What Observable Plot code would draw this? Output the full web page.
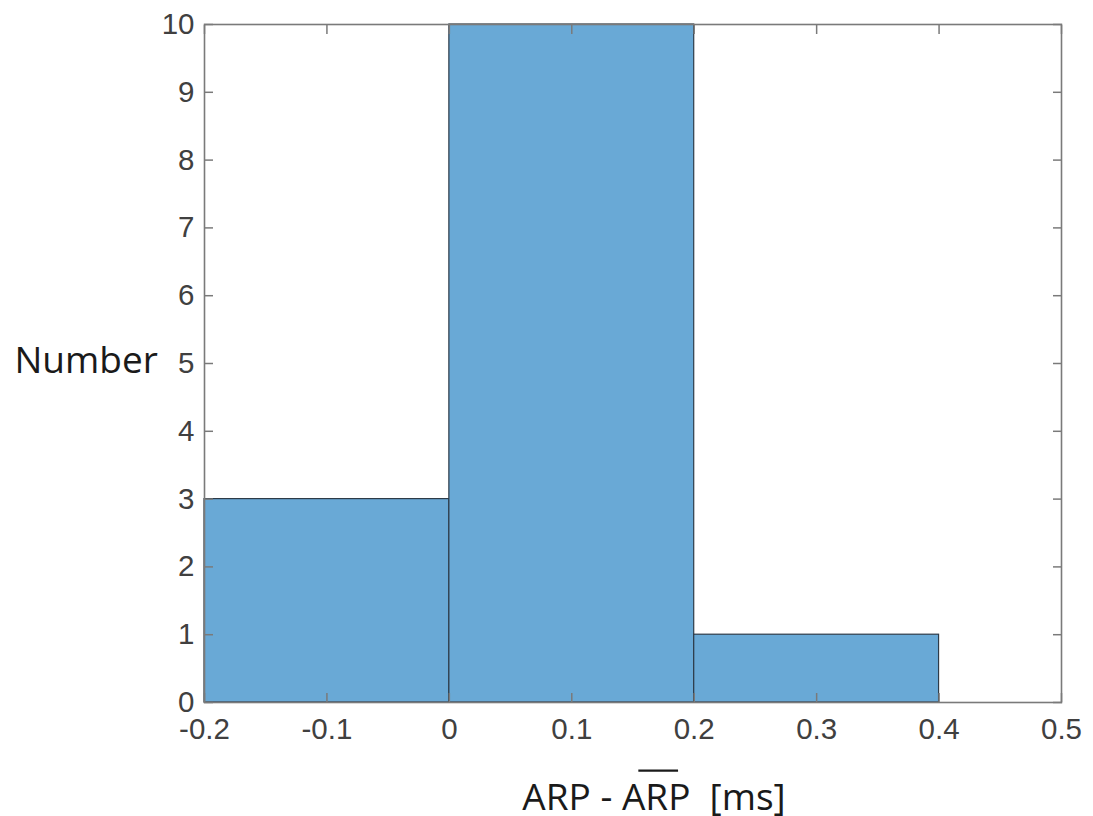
<!DOCTYPE html>
<html>
<head>
<meta charset="utf-8">
<script src="https://cdn.jsdelivr.net/npm/d3@7"></script>
<script src="https://cdn.jsdelivr.net/npm/@observablehq/plot@0.6"></script>
<style>
  html, body { margin: 0; padding: 0; background: #fff; }
  #chart svg { display: block; }
</style>
</head>
<body>
<div id="chart"></div>
<script>
// Histogram bins (edges in ms) and counts
const binStart = [-0.2, 0.0, 0.2];
const binEnd   = [0.0, 0.2, 0.4];
const counts   = [3, 10, 1];

// Axis ticks
const xTicks = [-0.2, -0.1, 0, 0.1, 0.2, 0.3, 0.4, 0.5];
const yTicks = [0, 1, 2, 3, 4, 5, 6, 7, 8, 9, 10];

const yLabel = "Number";
const xLabel = "ARP - ARP  [ms]";

const bins = binStart.map((s, i) => ({x1: s, x2: binEnd[i], y: counts[i]}));

const tickColor = "#7a7a7a";
const labelColor = "#404040";
const fmt = d => String(+d.toFixed(1));

const chart = Plot.plot({
  width: 1093,
  height: 816,
  marginLeft: 204,
  marginRight: 32,
  marginTop: 24,
  marginBottom: 114,
  style: {fontFamily: "'Liberation Sans', Arial, sans-serif", background: "#fff"},
  x: {domain: [-0.2, 0.5]},
  y: {domain: [0, 10]},
  marks: [
    Plot.rectY(bins, {x1: "x1", x2: "x2", y: "y", fill: "#69a9d6", stroke: "#2d3b48", strokeWidth: 1.2}),
    Plot.frame({stroke: tickColor, strokeWidth: 1.6}),
    // bottom axis: inward ticks + labels
    Plot.axisX({anchor: "bottom", ticks: xTicks, tickSize: -9, tickPadding: 25, tickFormat: fmt,
      stroke: tickColor, fill: labelColor, fontSize: 29.5, label: null, strokeWidth: 1.5}),
    // top axis ticks only
    Plot.axisX({anchor: "top", ticks: xTicks, tickSize: -9, tickFormat: () => "",
      stroke: tickColor, label: null, strokeWidth: 1.5}),
    // left axis
    Plot.axisY({anchor: "left", ticks: yTicks, tickSize: -9, tickPadding: 19, tickFormat: fmt,
      stroke: tickColor, fill: labelColor, fontSize: 29.5, label: null, strokeWidth: 1.5}),
    // right axis ticks only
    Plot.axisY({anchor: "right", ticks: yTicks, tickSize: -9, tickFormat: () => "",
      stroke: tickColor, label: null, strokeWidth: 1.5}),
    // axis titles
    Plot.text([yLabel], {frameAnchor: "left", text: d => d, dx: -190, dy: -2, textAnchor: "start",
      lineAnchor: "middle", fontSize: 37, fill: "#1a1a1a", fontFamily: "'Open Sans', sans-serif"}),
    Plot.text([xLabel], {frameAnchor: "bottom", text: d => d, dx: 21, dy: 107, textAnchor: "middle",
      lineAnchor: "bottom", fontSize: 37, fill: "#1a1a1a", fontFamily: "'Open Sans', sans-serif"})
  ]
});

document.getElementById("chart").appendChild(chart);

// Add a short overline above the second "ARP" in the x label, measured from the rendered glyphs
d3.select(chart).selectAll("text").each(function() {
  if (this.textContent !== xLabel) return;
  this.style.whiteSpace = "pre";
  const start = this.getStartPositionOfChar(6);   // "A" of second ARP
  const end = this.getEndPositionOfChar(8);       // "P" of second ARP
  const ext = this.getExtentOfChar(7);            // "R" extent for cap height
  const w = end.x - start.x;
  const capTop = ext.y + ext.height * 0.2;
  const m = this.getCTM();
  const g = this.parentNode;
  d3.select(g).append("line")
    .attr("x1", start.x + w * 0.24).attr("x2", start.x + w * 0.82)
    .attr("y1", capTop - 9).attr("y2", capTop - 9)
    .attr("stroke", "#1a1a1a").attr("stroke-width", 2.2)
    .attr("transform", this.getAttribute("transform"));
});
</script>
</body>
</html>
